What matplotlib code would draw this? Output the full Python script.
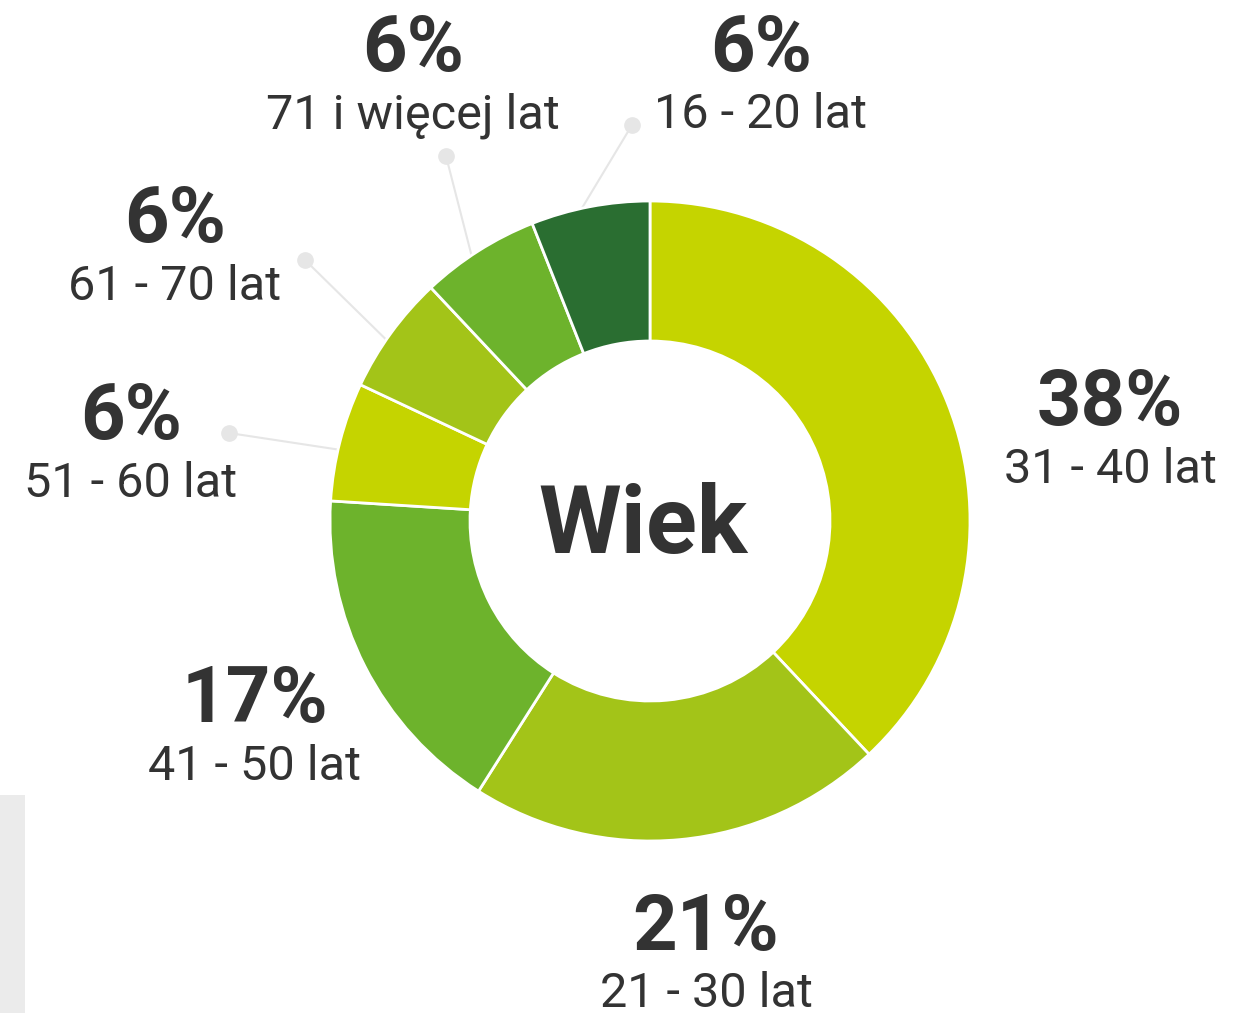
import numpy as np
import matplotlib
matplotlib.use("Agg")
import matplotlib.pyplot as plt
from matplotlib.patches import Rectangle

# dane
kategorie = ["31 - 40 lat", "21 - 30 lat", "41 - 50 lat", "51 - 60 lat",
             "61 - 70 lat", "71 i więcej lat", "16 - 20 lat"]
procenty = [38, 21, 17, 6, 6, 6, 6]
kolory = ["#c5d400", "#a3c418", "#6db32c", "#c5d400", "#a3c418", "#6db32c", "#2a6e31"]
tytul = "Wiek"

# pozycje etykiet (piksele): x srodka, linia bazowa procentu, linia bazowa opisu
etykiety_xy = [(1110, 425, 483), (706, 950, 1007), (255, 722, 780), (131, 439, 497),
               (175, 242, 300), (413, 71, 128), (761, 71, 128)]
# kropki linii prowadzacych dla malych wycinkow
kropki = {3: (229, 433), 4: (305, 260), 5: (446, 156), 6: (632, 125)}

plt.rcParams['font.family'] = ['Roboto', 'DejaVu Sans']
tekst_kolor = "#333333"

W, H = 1254, 1013
fig = plt.figure(figsize=(W / 100, H / 100), dpi=100)
ax = fig.add_axes([0, 0, 1, 1])

cx, cy, R = 650, 521, 320
wedges, _ = ax.pie(procenty, colors=kolory, startangle=-90, counterclock=True,
                   center=(cx, cy), radius=R,
                   wedgeprops=dict(width=140, edgecolor="white", linewidth=2.0))

ax.set_xlim(0, W)
ax.set_ylim(H, 0)
ax.set_aspect("equal")
ax.axis("off")

# linie prowadzace
for i, (kx, ky) in kropki.items():
    w = wedges[i]
    th = np.deg2rad((w.theta1 + w.theta2) / 2 - 1.5)
    sx, sy = cx + R * np.cos(th), cy + R * np.sin(th)
    ax.plot([sx, kx], [sy, ky], color="#e6e6e6", lw=1.5, zorder=0)
    ax.plot(kx, ky, "o", color="#e6e6e6", ms=11, zorder=0)

for i, (p, k) in enumerate(zip(procenty, kategorie)):
    x, yb1, yb2 = etykiety_xy[i]
    ax.text(x, yb1, f"{p}%", ha="center", va="baseline", fontsize=56,
            fontweight="bold", color=tekst_kolor)
    ax.text(x, yb2, k, ha="center", va="baseline", fontsize=35, color=tekst_kolor)

ax.text(643, 553, tytul, ha="center", va="baseline", fontsize=68,
        fontweight="bold", color=tekst_kolor)

ax.add_patch(Rectangle((0, 795), 25, 218, color="#ebebeb", lw=0, zorder=0))

fig.savefig("out.png", dpi=100)
